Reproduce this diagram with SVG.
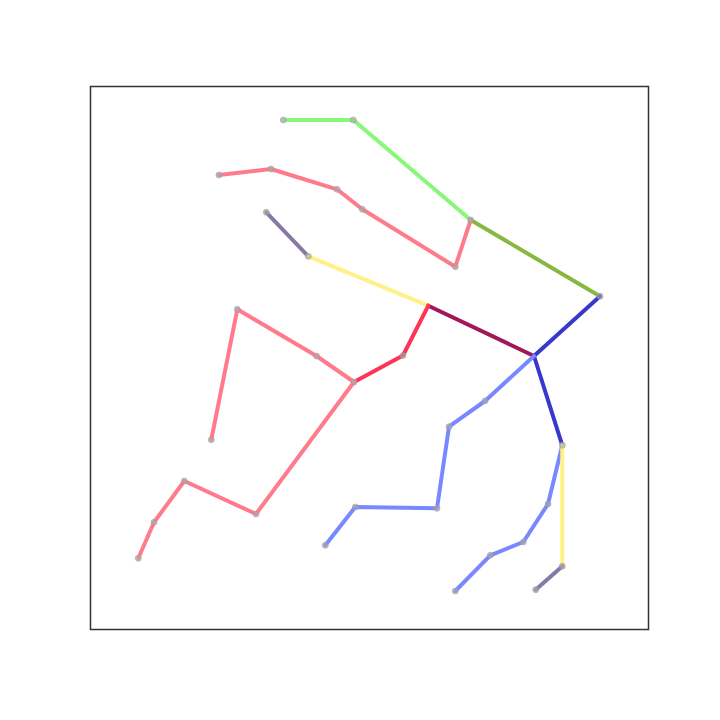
<svg xmlns="http://www.w3.org/2000/svg" width="720" height="720" viewBox="0 0 720 720">
<style>
.e{fill:none;stroke-width:4;stroke-linecap:round;stroke-linejoin:round}
.n{fill:#aaa;fill-opacity:0.6;stroke:#999;stroke-opacity:0.6;stroke-width:1}
</style>
<rect width="720" height="720" fill="#fff"/>
<rect x="90.5" y="86.5" width="558" height="543" fill="none" stroke="#333" stroke-width="1.5"/>
<g id="connectors">
<polyline class="e" stroke="#88f878" points="283.3,120 353.3,120 470.7,220"/>
<polyline class="e" stroke="#88b840" points="470.7,220 600,296.3"/>
<polyline class="e" stroke="#ff7b8c" points="219,175 271,169 337,189.3 362.3,209.3 455.3,266.7 470.7,220"/>
<polyline class="e" stroke="#8878a8" points="266.3,212.3 308.3,256.3"/>
<polyline class="e" stroke="#fff088" points="308.3,256.3 428.3,305.7"/>
<polyline class="e" stroke="#a01858" points="428.3,305.7 534,356"/>
<polyline class="e" stroke="#ff3355" points="428.3,305.7 403,355.5 354,382"/>
<polyline class="e" stroke="#ff7b8c" points="354,382 316.5,356 237.3,309.3 211.3,439.7"/>
<polyline class="e" stroke="#ff7b8c" points="354,382 256,514 184.3,481 154,522.3 138.3,558.3"/>
<polyline class="e" stroke="#3838cc" points="600,296.3 534,356 562.3,445.3"/>
<polyline class="e" stroke="#7888ff" points="534,356 485,401 449,426.7 437,508.3 355.3,507 325.3,545.3"/>
<polyline class="e" stroke="#7888ff" points="562.3,445.3 548,504 523.3,542 490.3,555.3 455.3,591"/>
<polyline class="e" stroke="#fff088" points="562.3,445.3 562.3,566.3"/>
<polyline class="e" stroke="#8878a8" points="562.3,566.3 535.7,589.7"/>
</g>
<g id="nodes">
<g id="n1"><circle class="n" cx="283.3" cy="120" r="3"/></g>
<g id="n2"><circle class="n" cx="353.3" cy="120" r="3"/></g>
<g id="n3"><circle class="n" cx="470.7" cy="220" r="3"/></g>
<g id="n4"><circle class="n" cx="600" cy="296.3" r="3"/></g>
<g id="n5"><circle class="n" cx="219" cy="175" r="3"/></g>
<g id="n6"><circle class="n" cx="271" cy="169" r="3"/></g>
<g id="n7"><circle class="n" cx="337" cy="189.3" r="3"/></g>
<g id="n8"><circle class="n" cx="362.3" cy="209.3" r="3"/></g>
<g id="n9"><circle class="n" cx="455.3" cy="266.7" r="3"/></g>
<g id="n10"><circle class="n" cx="266.3" cy="212.3" r="3"/></g>
<g id="n11"><circle class="n" cx="308.3" cy="256.3" r="3"/></g>
<g id="n12"><circle class="n" cx="403" cy="355.5" r="3"/></g>
<g id="n13"><circle class="n" cx="354" cy="382" r="3"/></g>
<g id="n14"><circle class="n" cx="316.5" cy="356" r="3"/></g>
<g id="n15"><circle class="n" cx="237.3" cy="309.3" r="3"/></g>
<g id="n16"><circle class="n" cx="211.3" cy="439.7" r="3"/></g>
<g id="n17"><circle class="n" cx="256" cy="514" r="3"/></g>
<g id="n18"><circle class="n" cx="184.3" cy="481" r="3"/></g>
<g id="n19"><circle class="n" cx="154" cy="522.3" r="3"/></g>
<g id="n20"><circle class="n" cx="138.3" cy="558.3" r="3"/></g>
<g id="n21"><circle class="n" cx="562.3" cy="445.3" r="3"/></g>
<g id="n22"><circle class="n" cx="485" cy="401" r="3"/></g>
<g id="n23"><circle class="n" cx="449" cy="426.7" r="3"/></g>
<g id="n24"><circle class="n" cx="437" cy="508.3" r="3"/></g>
<g id="n25"><circle class="n" cx="355.3" cy="507" r="3"/></g>
<g id="n26"><circle class="n" cx="325.3" cy="545.3" r="3"/></g>
<g id="n27"><circle class="n" cx="548" cy="504" r="3"/></g>
<g id="n28"><circle class="n" cx="523.3" cy="542" r="3"/></g>
<g id="n29"><circle class="n" cx="490.3" cy="555.3" r="3"/></g>
<g id="n30"><circle class="n" cx="455.3" cy="591" r="3"/></g>
<g id="n31"><circle class="n" cx="562.3" cy="566.3" r="3"/></g>
<g id="n32"><circle class="n" cx="535.7" cy="589.7" r="3"/></g>
</g>
</svg>
